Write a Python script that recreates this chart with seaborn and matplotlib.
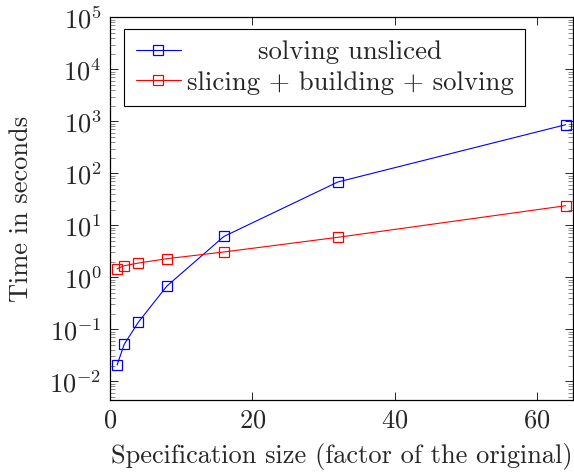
import numpy as np
import pandas as pd
import seaborn as sns
import matplotlib.pyplot as plt
from matplotlib.ticker import LogLocator, NullFormatter

# problem sizes (factor of the original)
sizes = [1, 2, 4, 8, 16, 32, 64]
# runtimes in seconds
unsliced = [0.0206, 0.0515, 0.138, 0.68, 6.1, 68, 860]
sliced = [1.46, 1.67, 1.88, 2.28, 3.07, 5.88, 23.8]

sns.set_style("ticks")
plt.rcParams['font.family'] = ['cmr10', 'DejaVu Serif']
plt.rcParams['mathtext.fontset'] = 'cm'
plt.rcParams['axes.formatter.use_mathtext'] = True
plt.rcParams['axes.unicode_minus'] = False

fig = plt.figure(figsize=(5.74, 4.72), dpi=100)
ax = fig.add_axes([0.1916, 0.1525, 0.8061, 0.8108])

estilo = dict(marker='s', markersize=7, markerfacecolor='none',
              markeredgewidth=0.9, linewidth=0.8)
sns.lineplot(x=sizes, y=unsliced, ax=ax, color='blue', markeredgecolor='blue',
             label='        solving unsliced', **estilo)
sns.lineplot(x=sizes, y=sliced, ax=ax, color='red', markeredgecolor='red',
             label='slicing + building + solving', **estilo)

ax.set_yscale('log')
ax.set_xlim(0, 65)
ax.set_ylim(10 ** -2.36, 1e5)
ax.set_xticks([0, 20, 40, 60])
ax.yaxis.set_major_locator(LogLocator(base=10, numticks=20))
ax.yaxis.set_minor_locator(LogLocator(base=10, subs=np.arange(2, 10), numticks=20))
ax.yaxis.set_minor_formatter(NullFormatter())

ax.tick_params(which='both', direction='in', top=True, right=True,
               labelsize=19, width=0.6, color='black', pad=6)
ax.tick_params(which='major', length=6)
ax.tick_params(which='minor', length=3.5, color='#777777')
for s in ax.spines.values():
    s.set_linewidth(0.9)
    s.set_color('black')

ax.set_xlabel('Specification size (factor of the original)', fontsize=19, labelpad=8)
ax.set_ylabel('Time in seconds', fontsize=19, labelpad=12)

leg = ax.legend(loc='upper left', bbox_to_anchor=(0.031, 0.969), borderaxespad=0,
                fontsize=19.3, frameon=True, fancybox=False, framealpha=1,
                edgecolor='black', handlelength=1.7, handletextpad=0.2,
                labelspacing=0.25, borderpad=0.42)
leg.get_frame().set_linewidth(0.8)

plt.savefig('out.png', dpi=100)
